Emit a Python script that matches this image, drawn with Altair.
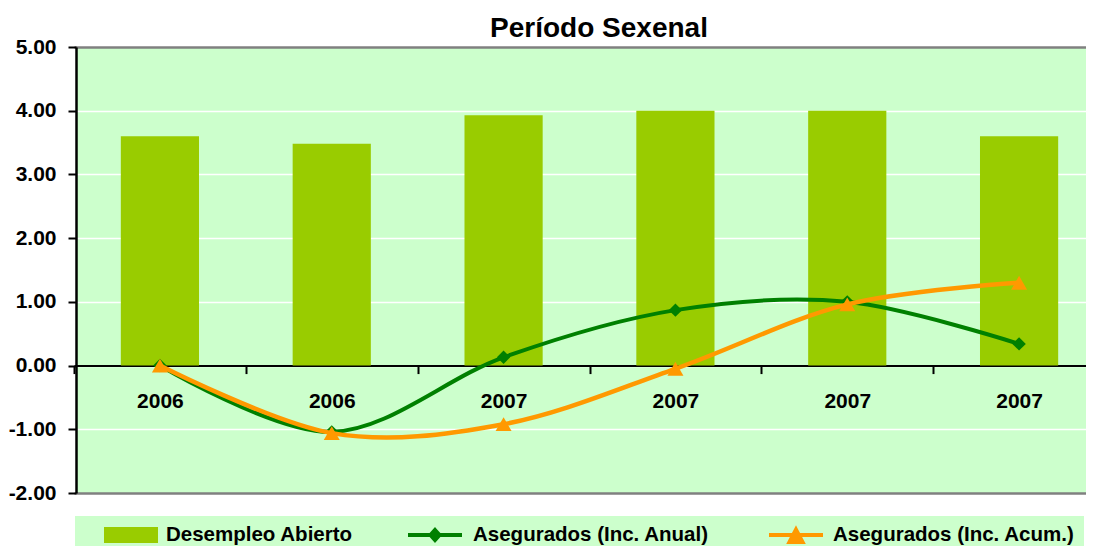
import altair as alt
import pandas as pd

# ---- data ----
categories = ["2006", "2006", "2007", "2007", "2007", "2007"]
desempleo = [3.60, 3.48, 3.93, 4.00, 4.00, 3.60]
inc_anual = [0.00, -1.04, 0.13, 0.87, 1.00, 0.34]
inc_acum = [0.00, -1.06, -0.92, -0.05, 0.96, 1.30]
series = ["Desempleo Abierto", "Asegurados (Inc. Anual)", "Asegurados (Inc. Acum.)"]
colors = ["#99CC00", "#008000", "#FF9900"]
y_ticks = [-2, -1, 0, 1, 2, 3, 4, 5]

idx = list(range(len(categories)))
bars_df = pd.DataFrame({"idx": idx, "valor": desempleo, "serie": series[0]})
anual_df = pd.DataFrame({"idx": idx, "valor": inc_anual, "serie": series[1]})
acum_df = pd.DataFrame({"idx": idx, "valor": inc_acum, "serie": series[2]})

FONT = "Liberation Sans"
W, H = 1010, 446
label_array = "[" + ",".join(f"'{c}'" for c in categories) + "]"

x_enc = alt.X(
    "idx:O",
    scale=alt.Scale(range=[-2, 1029], paddingInner=0, paddingOuter=0),
    axis=alt.Axis(
        title=None, orient="bottom", offset=-(H * 2 / 7),
        domainColor="black", domainWidth=2,
        tickColor="black", tickWidth=2, tickSize=8, tickBand="extent",
        labelAngle=0, labelFont=FONT, labelFontSize=21, labelFontWeight="bold",
        labelColor="black", labelPadding=17,
        labelExpr=f"{label_array}[datum.value]", grid=False,
    ),
)

edge_test = "datum.value == -2 || datum.value == 5"
y_enc = alt.Y(
    "valor:Q",
    scale=alt.Scale(domain=[-2, 5], nice=False, zero=False),
    axis=alt.Axis(
        title=None, values=y_ticks,
        labelExpr="datum.value < 0 ? '-' + format(-datum.value, '.2f') : format(datum.value, '.2f')",
        domainColor="black", domainWidth=2.5,
        tickColor="black", tickWidth=2, tickSize=8,
        labelFont=FONT, labelFontSize=21, labelFontWeight="bold",
        labelColor="black", labelPadding=12,
        grid=True,
        gridColor={"condition": {"test": edge_test, "value": "#808080"}, "value": "#FFFFFF"},
        gridWidth={"condition": {"test": edge_test, "value": 2.5}, "value": 1.5},
        gridOpacity=1,
    ),
)

# legend symbol paths: a blank lead-in on the left acts as the symbol's offset
rect_path = "M-0.4595,-0.2162H1V0.2162H-0.4595Z"                       # size 74^2
dia_path = "M-0.2,0H1M0.4,-0.111L0.5,0L0.4,0.111L0.3,0Z"                # size 90^2
tri_path = "M-0.1368,0H1M0.4316,-0.1137L0.5684,0.147L0.2947,0.147Z"     # size 95^2


def make_legend(x, sym_type, sym_size, label_offset, stroke_w, fill_color=None):
    kw = dict(
        title=None, orient="none", legendX=x, legendY=469, direction="horizontal",
        fillColor="#CCFFCC", padding=9, clipHeight=20,
        labelOffset=label_offset,
        labelFont=FONT, labelFontSize=20.5, labelFontWeight="bold", labelColor="black",
        labelLimit=0, symbolSize=sym_size, symbolStrokeWidth=stroke_w,
        symbolType=sym_type, symbolOpacity=1,
    )
    if fill_color:
        kw["symbolFillColor"] = fill_color
    return alt.Legend(**kw)


def color_enc(i, legend):
    return alt.Color(
        "serie:N", scale=alt.Scale(domain=[series[i]], range=[colors[i]]), legend=legend
    )


bars = alt.Chart(bars_df).mark_bar(width=alt.RelativeBandSize(0.455)).encode(
    x=x_enc, y=y_enc, color=color_enc(0, make_legend(-1, rect_path, 74 ** 2, 8, 0))
)
line_anual = alt.Chart(anual_df).mark_line(interpolate="cardinal", strokeWidth=4).encode(
    x=x_enc, y=y_enc, color=color_enc(1, make_legend(285, dia_path, 90 ** 2, 9, 4, colors[1]))
)
pts_anual = alt.Chart(anual_df).mark_point(
    shape="diamond", filled=True, size=180, opacity=1, color=colors[1]
).encode(x=x_enc, y=y_enc)
line_acum = alt.Chart(acum_df).mark_line(interpolate="cardinal", strokeWidth=4.5).encode(
    x=x_enc, y=y_enc, color=color_enc(2, make_legend(641, tri_path, 95 ** 2, 8, 4, colors[2]))
)
pts_acum = alt.Chart(acum_df).mark_point(
    shape="triangle-up", filled=True, size=256, opacity=1, color=colors[2]
).encode(x=x_enc, y=y_enc)

chart = (
    alt.layer(bars, line_anual, pts_anual, line_acum, pts_acum)
    .resolve_scale(color="independent")
    .properties(
        width=W, height=H,
        title=alt.Title(
            "Período Sexenal", font=FONT, fontSize=28, fontWeight="bold", color="black",
            frame="group", anchor="middle", offset=10, dx=18, dy=17,
        ),
        autosize=alt.AutoSizeParams(type="none"),
        padding={"left": 68, "top": 39, "right": 0, "bottom": 53},
    )
    .configure(background="white")
    .configure_view(fill="#CCFFCC", strokeWidth=0)
)

chart.save("out.html", embed_options={"renderer": "svg", "actions": False})
